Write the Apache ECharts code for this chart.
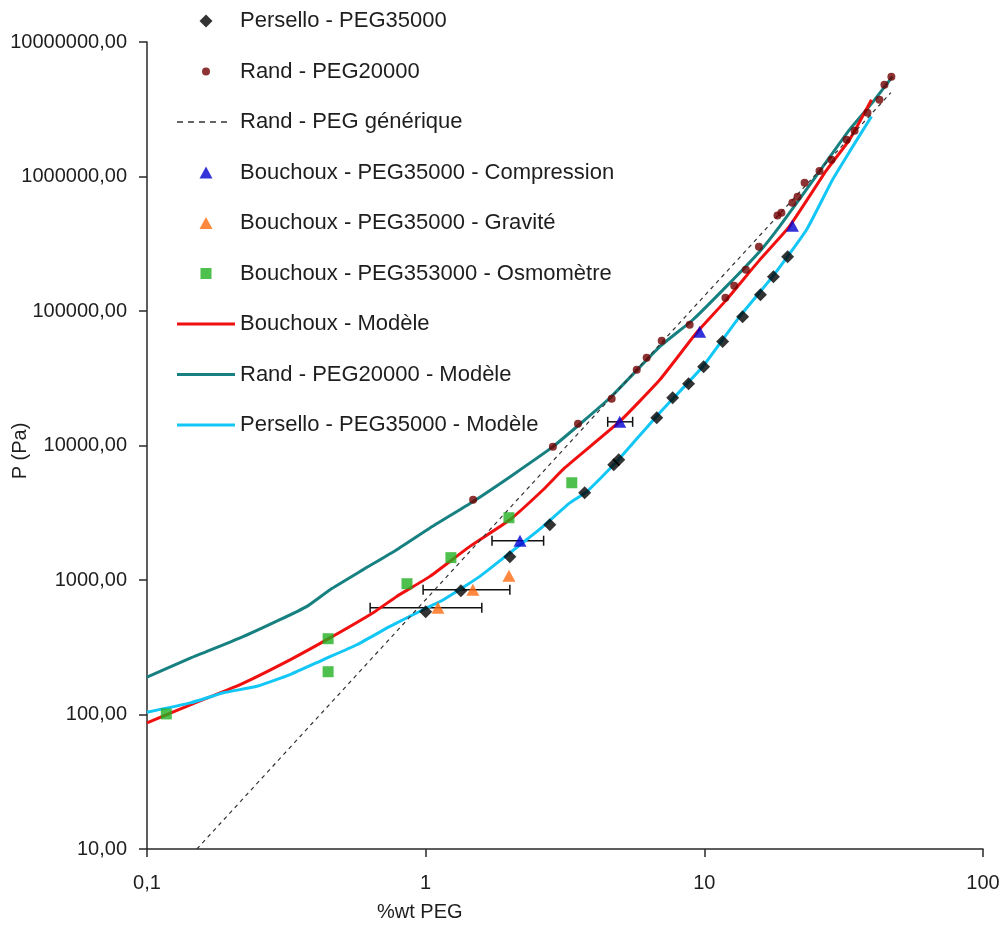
<!DOCTYPE html>
<html>
<head>
<meta charset="utf-8">
<script src="https://cdn.jsdelivr.net/npm/echarts@6/dist/echarts.min.js"></script>
<style>
html,body{margin:0;padding:0;background:#fff;}
#chart{width:1004px;height:929px;}
</style>
</head>
<body>
<div id="chart"></div>
<script>
// ---- data (x = %wt PEG, y = P in Pa) ----
const xTicks = [0.1, 1, 10, 100];
const yTicks = [10, 100, 1000, 10000, 100000, 1000000, 10000000];

const persello = [[1.0,580],[1.338,832],[2.005,1490],[2.79,2576],[3.72,4460],[4.73,7200],[4.93,7830],[6.75,16100],[7.70,22600],[8.78,28800],[9.94,38500],[11.63,59200],[13.72,90800],[15.9,132000],[17.7,180000],[19.9,253000]];

const randPoints = [[1.48,3950],[2.86,9800],[3.52,14500],[4.65,22300],[5.72,36600],[6.21,45000],[7.03,60100],[8.86,79100],[11.9,125600],[12.8,154000],[14.1,203000],[15.7,300000],[18.3,512000],[18.9,538000],[20.7,638000],[21.6,708000],[22.9,900000],[25.9,1100000],[28.6,1330000],[32.4,1880000],[34.6,2190000],[38.5,2980000],[42.5,3720000],[44.3,4820000],[46.9,5520000]];

const randGeneric = [[0.151,10],[46.7,4200000]];

const bouchouxCompression = [[2.18,1960],[4.97,15000],[9.62,70200],[20.7,431000]];
const bouchouxGravite = [[1.107,622],[1.477,847],[1.99,1076]];
const bouchouxOsmometre = [[0.1173,101],[0.4466,366],[0.4466,208],[0.857,938],[1.232,1466],[1.99,2904],[3.345,5285]];

// error bars: [x, y, xLow, xHigh]
const errorBars = [[2.18,1960,1.73,2.65],[4.97,15000,4.50,5.53],[1.107,622,0.632,1.59],[1.477,847,0.979,2.005]];

const bouchouxModel = [[0.1,86.5],[0.143,118],[0.216,167],[0.326,255],[0.442,360],[0.648,571],[0.787,755],[1.036,1064],[1.441,1778],[2.005,2806],[2.64,4690],[3.16,6840],[4.97,15100],[6.92,30800],[9.36,68600],[12.0,121000],[15.8,240000],[20.2,426000],[27.5,1120000],[33.2,1880000],[39.8,3720000]];

const randModel = [[0.1,190],[0.143,263],[0.216,371],[0.300,507],[0.375,637],[0.454,847],[0.597,1194],[0.787,1680],[1.036,2438],[1.481,3837],[2.06,6070],[2.87,9840],[4.58,22540],[6.92,54300],[9.10,86100],[12.0,152400],[15.8,277300],[18.6,424000],[26.6,1180000],[33.2,2230000],[40.1,3540000],[47.3,5520000]];

const perselloModel = [[0.1,104],[0.143,122],[0.188,145],[0.248,162],[0.326,198],[0.428,255],[0.566,330],[0.745,452],[0.978,601],[1.157,713],[1.565,1064],[2.005,1589],[2.64,2506],[3.29,3742],[3.79,4540],[4.85,7590],[6.92,17540],[9.86,38500],[13.38,90800],[17.57,180000],[23.27,402000],[28.84,946000],[33.2,1530000],[36.6,2120000],[39.8,2790000]];

const names = [
  'Persello - PEG35000',
  'Rand - PEG20000',
  'Rand - PEG générique',
  'Bouchoux - PEG35000 - Compression',
  'Bouchoux - PEG35000 - Gravité',
  'Bouchoux - PEG353000 - Osmomètre',
  'Bouchoux - Modèle',
  'Rand - PEG20000 - Modèle',
  'Persello - PEG35000 - Modèle'
];

// ---- chart ----
const FONT = '"Liberation Sans", Arial, sans-serif';
const TXT = '#1e1e1e';
const chart = echarts.init(document.getElementById('chart'));

function fmtX(v){ return String(+(+v).toPrecision(6)).replace('.', ','); }
function fmtY(v){ return String(Math.round(v)) + ',00'; }

// legend icons drawn in a 58 x 14 box (same aspect as the legend item box)
const BOX = 'path://M0,0M58,14';
const ICON_DIAMOND = BOX + 'M29,0.5L35.5,7L29,13.5L22.5,7Z';
const ICON_DOT = BOX + 'M29,3A4,4,0,1,1,29,11A4,4,0,1,1,29,3Z';
const ICON_TRI = BOX + 'M29,1L35.5,13L22.5,13Z';
const ICON_SQ = BOX + 'M23.5,1.5L34.5,1.5L34.5,12.5L23.5,12.5Z';
const ICON_LINE = BOX + 'M0,5.5L58,5.5L58,8.5L0,8.5Z';
let dashIcon = BOX;
for (let i = 0; i < 5; i++) {
  const a = i * 11, b = a + 6;
  dashIcon += 'M' + a + ',6.3L' + b + ',6.3L' + b + ',7.7L' + a + ',7.7Z';
}

const axisCommon = {
  axisLine: {show: true, lineStyle: {color: '#2a2a2a', width: 1.5}},
  axisTick: {show: true, inside: false, length: 8, lineStyle: {color: '#2a2a2a', width: 1.5}},
  splitLine: {show: false},
  minorTick: {show: false},
};

chart.setOption({
  animation: false,
  backgroundColor: '#ffffff',
  grid: {left: 147, right: 21, top: 42, bottom: 80, containLabel: false},
  xAxis: Object.assign({
    type: 'log', logBase: 10, min: xTicks[0], max: xTicks[xTicks.length-1], interval: 1,
    axisLabel: {formatter: fmtX, fontFamily: FONT, fontSize: 20, color: TXT, margin: 24}
  }, axisCommon),
  yAxis: Object.assign({
    type: 'log', logBase: 10, min: yTicks[0], max: yTicks[yTicks.length-1], interval: 1,
    axisLabel: {formatter: fmtY, fontFamily: FONT, fontSize: 20, color: TXT, margin: 20}
  }, axisCommon),
  graphic: [
    {type: 'text', x: 377, y: 912, style: {text: '%wt PEG', font: '20px ' + FONT, fill: TXT, textAlign: 'left', textVerticalAlign: 'middle'}},
    {type: 'text', x: 20, y: 451, rotation: Math.PI/2, style: {text: 'P (Pa)', font: '20px ' + FONT, fill: TXT, textAlign: 'center', textVerticalAlign: 'middle'}}
  ],
  legend: {
    orient: 'vertical', left: 177, top: 10, padding: 0,
    itemWidth: 58, itemHeight: 14, itemGap: 28.5,
    itemStyle: {borderWidth: 0},
    textStyle: {fontFamily: FONT, fontSize: 22, color: TXT, lineHeight: 22},
    data: [
      {name: names[0], icon: ICON_DIAMOND},
      {name: names[1], icon: ICON_DOT},
      {name: names[2], icon: dashIcon},
      {name: names[3], icon: ICON_TRI},
      {name: names[4], icon: ICON_TRI},
      {name: names[5], icon: ICON_SQ},
      {name: names[6], icon: ICON_LINE},
      {name: names[7], icon: ICON_LINE},
      {name: names[8], icon: ICON_LINE}
    ]
  },
  series: [
    {name: names[7], type: 'line', data: randModel, symbol: 'none', smooth: 0.15,
      lineStyle: {color: '#178080', width: 3}, itemStyle: {color: '#178080'}},
    {name: names[6], type: 'line', data: bouchouxModel, symbol: 'none', smooth: 0.15,
      lineStyle: {color: '#f01010', width: 3}, itemStyle: {color: '#f01010'}},
    {name: names[8], type: 'line', data: perselloModel, symbol: 'none', smooth: 0.15,
      lineStyle: {color: '#12c6f5', width: 3}, itemStyle: {color: '#12c6f5'}},
    {name: names[2], type: 'line', data: randGeneric, symbol: 'none',
      lineStyle: {color: '#333333', width: 1.2, type: [4, 4]}, itemStyle: {color: '#333333'}},
    {name: 'errors', type: 'custom', data: errorBars, encode: {x: [0, 2, 3], y: 1}, z: 3,
      renderItem: function (params, api) {
        const y = api.coord([api.value(0), api.value(1)])[1];
        const x1 = api.coord([api.value(2), api.value(1)])[0];
        const x2 = api.coord([api.value(3), api.value(1)])[0];
        const st = {stroke: '#111', lineWidth: 1.5};
        return {type: 'group', children: [
          {type: 'line', shape: {x1: x1, y1: y, x2: x2, y2: y}, style: st},
          {type: 'line', shape: {x1: x1, y1: y - 5, x2: x1, y2: y + 5}, style: st},
          {type: 'line', shape: {x1: x2, y1: y - 5, x2: x2, y2: y + 5}, style: st}
        ]};
      }},
    {name: names[1], type: 'scatter', data: randPoints, symbol: 'circle', symbolSize: 8, z: 4,
      itemStyle: {color: '#700000'}},
    {name: names[0], type: 'scatter', data: persello, symbol: 'diamond', symbolSize: 13, z: 4,
      itemStyle: {color: '#000000'}},
    {name: names[5], type: 'scatter', data: bouchouxOsmometre, symbol: 'rect', symbolSize: 11, z: 4,
      itemStyle: {color: '#22b022'}},
    {name: names[4], type: 'scatter', data: bouchouxGravite, symbol: 'triangle', symbolSize: [13, 12], z: 5,
      itemStyle: {color: '#ff6a10'}},
    {name: names[3], type: 'scatter', data: bouchouxCompression, symbol: 'triangle', symbolSize: [13, 12], z: 5,
      itemStyle: {color: '#0000d0'}}
  ]
});
</script>
</body>
</html>
